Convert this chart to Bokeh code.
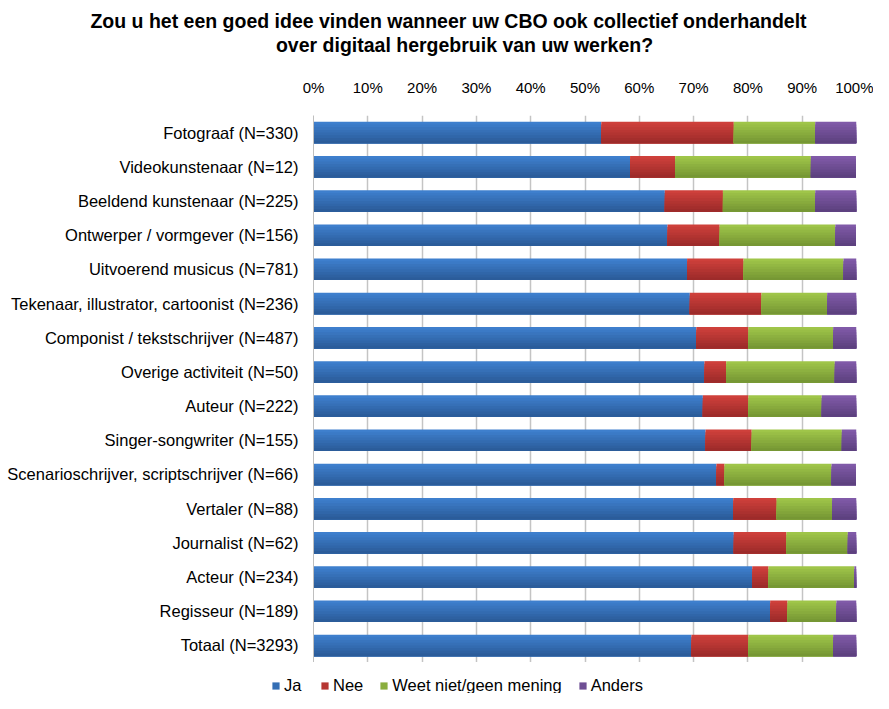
from bokeh.plotting import figure
from bokeh.layouts import column
from bokeh.models import (ColumnDataSource, FactorRange, Range1d, FixedTicker, Legend,
                          LegendItem, Plot)
from bokeh.core.properties import value
from bokeh.transform import dodge
from bokeh.embed import file_html
from bokeh.resources import INLINE

# ---------------- data ----------------
categories = [
    "Fotograaf (N=330)",
    "Videokunstenaar (N=12)",
    "Beeldend kunstenaar (N=225)",
    "Ontwerper / vormgever (N=156)",
    "Uitvoerend musicus (N=781)",
    "Tekenaar, illustrator, cartoonist (N=236)",
    "Componist / tekstschrijver (N=487)",
    "Overige activiteit (N=50)",
    "Auteur (N=222)",
    "Singer-songwriter (N=155)",
    "Scenarioschrijver, scriptschrijver (N=66)",
    "Vertaler (N=88)",
    "Journalist (N=62)",
    "Acteur (N=234)",
    "Regisseur (N=189)",
    "Totaal (N=3293)",
]
ja = [53.0, 58.3, 64.7, 65.2, 68.8, 69.3, 70.5, 72.0, 71.7, 72.2, 74.2, 77.3, 77.4, 80.8, 84.1, 69.6]
nee = [24.4, 8.3, 10.7, 9.6, 10.4, 13.2, 9.6, 4.0, 8.4, 8.5, 1.5, 8.0, 9.7, 3.0, 3.2, 10.5]
weet = [15.0, 25.0, 17.0, 21.3, 18.4, 12.1, 15.6, 20.0, 13.5, 16.6, 19.7, 10.2, 11.3, 15.8, 9.0, 15.6]
anders = [7.6, 8.3, 7.6, 3.8, 2.4, 5.4, 4.3, 4.0, 6.4, 2.7, 4.5, 4.5, 1.6, 0.4, 3.7, 4.3]

series_names = ["Ja", "Nee", "Weet niet/geen mening", "Anders"]
x_ticks = [0, 10, 20, 30, 40, 50, 60, 70, 80, 90, 100]
x_tick_labels = ["0%", "10%", "20%", "30%", "40%", "50%", "60%", "70%", "80%", "90%", "100%"]

title_lines = ["Zou u het een goed idee vinden wanneer uw CBO ook collectief onderhandelt",
               "over digitaal hergebruik van uw werken?"]

# ---------------- styling ----------------
FONT = "Liberation Sans"
W = 873
TITLE_H, MAIN_H, LEG_H = 75, 587, 31
grad = [
    ((62, 127, 205), (43, 92, 154)),
    ((206, 64, 59), (157, 43, 42)),
    ((159, 197, 73), (118, 151, 52)),
    ((128, 90, 168), (93, 65, 127)),
]
BAR_H = 0.63
N_LAYERS = 8
HAS_FRAME_ALIGN = "frame_align" in Plot.properties()


def mix(a, b, t):
    return "#%02x%02x%02x" % tuple(int(round(a[j] + (b[j] - a[j]) * t)) for j in range(3))


def style(fig, hide_grid=False):
    fig.outline_line_color = None
    fig.background_fill_color = "white"
    fig.border_fill_color = "white"
    if hide_grid:
        fig.grid.visible = False
    if HAS_FRAME_ALIGN:
        fig.frame_align = False
    return fig


# ---------------- title block ----------------
tf = style(figure(width=W, height=TITLE_H, x_range=Range1d(0, W), y_range=Range1d(TITLE_H, 0),
                  x_axis_type=None, y_axis_type=None, output_backend="svg",
                  toolbar_location=None, min_border=0), hide_grid=True)
tf.text(x=[448, 464], y=[20, 44], text=title_lines, text_font=value(FONT),
        text_font_size="19.5px", text_font_style="bold", text_color="black",
        text_align="center", text_baseline="middle")

# ---------------- main chart ----------------
values = [ja, nee, weet, anders]
data = {"cat": categories}
cum = [0.0] * len(categories)
for i, vals in enumerate(values):
    data[f"l{i}"] = list(cum)
    cum = [c + v for c, v in zip(cum, vals)]
    data[f"r{i}"] = list(cum)
source = ColumnDataSource(data)

p = style(figure(
    width=W, height=MAIN_H,
    y_range=FactorRange(*reversed(categories)),
    x_range=Range1d(0, 100),
    x_axis_location="above",
    output_backend="svg", toolbar_location=None,
    min_border_left=313, min_border_right=17, min_border_top=0, min_border_bottom=0,
))

xa = p.xaxis[0]
xa.ticker = FixedTicker(ticks=x_ticks)
xa.major_label_overrides = {t: lab for t, lab in zip(x_ticks, x_tick_labels)}
xa.axis_line_color = None
xa.major_tick_line_color = None
xa.minor_tick_line_color = None
xa.major_label_standoff = 14
xa.major_label_text_font = FONT
xa.major_label_text_font_size = "15px"
xa.major_label_text_color = "black"

ya = p.yaxis[0]
ya.axis_line_color = "#BFBFBF"
ya.major_tick_line_color = None
ya.minor_tick_line_color = None
ya.major_label_standoff = 9
ya.major_label_text_font = FONT
ya.major_label_text_font_size = "16.5px"
ya.major_label_text_color = "black"

p.ygrid.grid_line_color = None
p.xgrid.ticker = FixedTicker(ticks=x_ticks)
p.xgrid.grid_line_color = "#C4C4C4"
p.xgrid.grid_line_width = 1.5

for i in range(len(values)):
    top, bot = grad[i]
    for k in range(N_LAYERS):
        h = BAR_H * (N_LAYERS - k) / N_LAYERS
        off = -BAR_H / 2 + h / 2
        col = mix(top, bot, k / (N_LAYERS - 1))
        p.hbar(y=dodge("cat", off, range=p.y_range), left=f"l{i}", right=f"r{i}",
               height=h, source=source, fill_color=col, line_color=None)

# ---------------- legend block ----------------
lf = style(figure(width=W, height=LEG_H, x_range=Range1d(0, 1), y_range=Range1d(0, 1),
                  x_axis_type=None, y_axis_type=None, output_backend="svg",
                  toolbar_location=None, min_border=0), hide_grid=True)
items = []
for name, (top, bot) in zip(series_names, grad):
    # zero-size proxy glyph: only its legend swatch is visible
    r = lf.hbar(y=[0.5], left=[0], right=[0], height=0, fill_color=mix(top, bot, 0.5),
                line_color=None)
    items.append(LegendItem(label=name, renderers=[r]))
legend = Legend(
    items=items, orientation="horizontal", location=(271, -2),
    glyph_width=9, glyph_height=9, label_standoff=4, spacing=16,
    padding=0, margin=0, border_line_color=None, background_fill_alpha=0,
    label_text_font=FONT, label_text_font_size="16.5px", label_text_color="black",
)
lf.add_layout(legend, "center")

layout = column(tf, p, lf, spacing=0)
open("out.html", "w").write(file_html(layout, INLINE))
